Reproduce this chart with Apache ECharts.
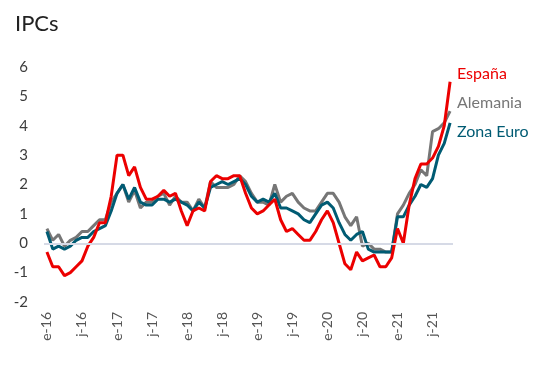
<!DOCTYPE html>
<html>
<head>
<meta charset="utf-8">
<script src="https://cdn.jsdelivr.net/npm/echarts@6/dist/echarts.min.js"></script>
<style>html,body{margin:0;padding:0;background:#fff}#c{width:551px;height:365px}</style>
</head>
<body>
<div id="c"></div>
<script>
var months = ['e','f','m','a','m','j','j','a','s','o','n','d'];
var years = ['16','17','18','19','20','21'];
var categories = [];
years.forEach(function(y){ months.forEach(function(m){ categories.push(m + '-' + y); }); });
categories = categories.slice(0, 70);

var espana = [
  -0.3,-0.8,-0.8,-1.1,-1.0,-0.8,-0.6,-0.1,0.2,0.7,0.7,1.6,
  3.0,3.0,2.3,2.6,1.9,1.5,1.5,1.6,1.8,1.6,1.7,1.1,
  0.6,1.1,1.2,1.1,2.1,2.3,2.2,2.2,2.3,2.3,1.7,1.2,
  1.0,1.1,1.3,1.5,0.8,0.4,0.5,0.3,0.1,0.1,0.4,0.8,
  1.1,0.7,0.0,-0.7,-0.9,-0.3,-0.6,-0.5,-0.4,-0.8,-0.8,-0.5,
  0.5,0.0,1.3,2.2,2.7,2.7,2.9,3.3,4.0,5.5
];
var alemania = [
  0.5,0.1,0.3,-0.1,0.1,0.2,0.4,0.4,0.6,0.8,0.8,1.4,
  1.7,2.0,1.4,1.8,1.2,1.4,1.4,1.6,1.7,1.3,1.6,1.4,
  1.4,1.1,1.5,1.2,2.1,1.9,1.9,1.9,2.0,2.3,2.1,1.7,
  1.4,1.4,1.3,2.0,1.4,1.6,1.7,1.4,1.2,1.1,1.1,1.4,
  1.7,1.7,1.4,0.9,0.6,0.9,-0.1,0.0,-0.2,-0.2,-0.3,-0.3,
  1.0,1.3,1.7,2.0,2.5,2.3,3.8,3.9,4.1,4.5
];
var zonaEuro = [
  0.4,-0.2,-0.1,-0.2,-0.1,0.1,0.2,0.2,0.4,0.5,0.6,1.1,
  1.7,2.0,1.5,1.9,1.4,1.3,1.3,1.5,1.5,1.4,1.5,1.4,
  1.3,1.1,1.4,1.2,1.9,2.0,2.1,2.0,2.1,2.2,2.0,1.6,
  1.4,1.5,1.4,1.7,1.2,1.2,1.1,1.0,0.8,0.7,1.0,1.3,
  1.4,1.2,0.7,0.3,0.1,0.3,0.4,-0.2,-0.3,-0.3,-0.3,-0.3,
  0.9,0.9,1.3,1.6,2.0,1.9,2.2,3.0,3.4,4.1
];
var yTicks = {min: -2, max: 6, interval: 1};

var RED = '#EC0000', GREY = '#767676', TEAL = '#005B73';
var font = 'Lato';

var chart = echarts.init(document.getElementById('c'), null, {renderer: 'canvas'});
chart.setOption({
  animation: false,
  backgroundColor: '#fff',
  title: {
    text: 'IPCs', left: 10, top: 8,
    textStyle: {fontFamily: font, fontSize: 22, fontWeight: 'normal', color: '#222'}
  },
  legend: {
    orient: 'vertical', left: 447, top: 61,
    itemWidth: 0, itemHeight: 16, itemGap: 13, icon: 'none',
    selectedMode: false,
    textStyle: {fontFamily: font, fontSize: 16},
    data: [
      {name: 'España', textStyle: {color: RED}},
      {name: 'Alemania', textStyle: {color: GREY}},
      {name: 'Zona Euro', textStyle: {color: TEAL}}
    ]
  },
  grid: {left: 44, top: 67, width: 409, bottom: 63, containLabel: false},
  xAxis: {
    type: 'category', data: categories, boundaryGap: true,
    axisLine: {show: false}, axisTick: {show: false},
    axisLabel: {interval: 5, rotate: 90, margin: 10, fontFamily: font, fontSize: 14, color: '#555'}
  },
  yAxis: {
    type: 'value', min: yTicks.min, max: yTicks.max, interval: yTicks.interval,
    axisLine: {show: false}, axisTick: {show: false}, splitLine: {show: false},
    axisLabel: {margin: 16, fontFamily: font, fontSize: 15, color: '#3c3c3c'}
  },
  series: [
    {name: 'Zona Euro', type: 'line', data: zonaEuro, symbol: 'none', z: 3,
     lineStyle: {color: TEAL, width: 3}, itemStyle: {color: TEAL},
     markLine: {silent: true, symbol: 'none', label: {show: false},
       lineStyle: {color: '#D6DAE6', width: 2, type: 'solid'}, data: [{yAxis: 0}]}},
    {name: 'Alemania', type: 'line', data: alemania, symbol: 'none', z: 2,
     lineStyle: {color: GREY, width: 3}, itemStyle: {color: GREY}},
    {name: 'España', type: 'line', data: espana, symbol: 'none', z: 4,
     lineStyle: {color: RED, width: 3}, itemStyle: {color: RED}}
  ]
});
</script>
</body>
</html>
